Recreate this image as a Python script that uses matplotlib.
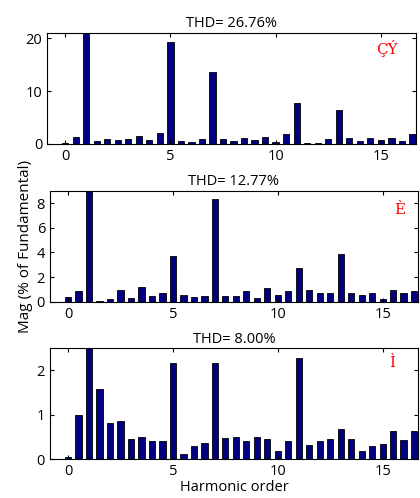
import numpy as np
import matplotlib
matplotlib.use("Agg")
import matplotlib.pyplot as plt

plt.rcParams['font.family'] = ['Open Sans', 'DejaVu Sans']

# Harmonic orders (half steps 0 .. 16.5)
orders = np.arange(0, 17, 0.5)

# Magnitudes (% of fundamental)
mag_top = [0.1, 1.4, 100, 0.5, 0.9, 0.7, 0.9, 1.5, 0.7, 2.0,
           19.2, 0.5, 0.3, 0.9, 13.6, 0.9, 0.5, 1.1, 0.7, 1.4,
           0.45, 1.8, 7.7, 0.25, 0.25, 0.9, 6.35, 1.1, 0.5, 1.1,
           0.7, 1.1, 0.5, 1.8]
mag_mid = [0.4, 0.85, 100, 0.08, 0.2, 0.92, 0.3, 1.22, 0.5, 0.73,
           3.69, 0.57, 0.4, 0.5, 8.3, 0.5, 0.5, 0.85, 0.3, 1.14,
           0.57, 0.85, 2.74, 0.92, 0.68, 0.68, 3.85, 0.68, 0.57, 0.73,
           0.2, 0.92, 0.68, 0.85]
mag_bot = [0.05, 0.99, 100, 1.59, 0.81, 0.87, 0.45, 0.5, 0.4, 0.4,
           2.16, 0.11, 0.29, 0.37, 2.16, 0.48, 0.5, 0.4, 0.5, 0.46,
           0.19, 0.4, 2.28, 0.32, 0.4, 0.45, 0.69, 0.45, 0.19, 0.29,
           0.34, 0.63, 0.42, 0.63]

titles = ["THD= 26.76%", "THD= 12.77%", "THD= 8.00%"]
labels = ["ÇÝ", "È", "Ì"]
ylims = [21, 9, 2.5]
yticks = [[0, 10, 20], [0, 2, 4, 6, 8], [0, 1, 2]]

fig = plt.figure(figsize=(4.2, 4.98), dpi=100)
rects = [[0.112, 0.711, 0.879, 0.223],
         [0.119, 0.394, 0.876, 0.223],
         [0.119, 0.078, 0.876, 0.223]]
label_pos = [(0.92, 0.86), (0.95, 0.83), (0.93, 0.865)]

for i, mags in enumerate([mag_top, mag_mid, mag_bot]):
    ax = fig.add_axes(rects[i])
    ax.bar(orders, mags, width=0.3, color='#000080', edgecolor='black', linewidth=0.6)
    ax.set_xlim(-0.86, 16.68)
    ax.set_ylim(0, ylims[i])
    ax.set_xticks([0, 5, 10, 15])
    ax.set_yticks(yticks[i])
    ax.tick_params(direction='in', top=True, right=True, labelsize=10.5, length=3)
    ax.set_title(titles[i], fontsize=10.5, pad=4)
    ax.text(label_pos[i][0], label_pos[i][1], labels[i], transform=ax.transAxes,
            color='red', fontsize=11, family='DejaVu Serif', ha='center', va='center')
    if i == 1:
        ax.set_ylabel('Mag (% of Fundamental)', fontsize=11, labelpad=3)
    if i == 2:
        ax.set_xlabel('Harmonic order', fontsize=10.5, labelpad=1)

fig.savefig('out.png', dpi=100)
